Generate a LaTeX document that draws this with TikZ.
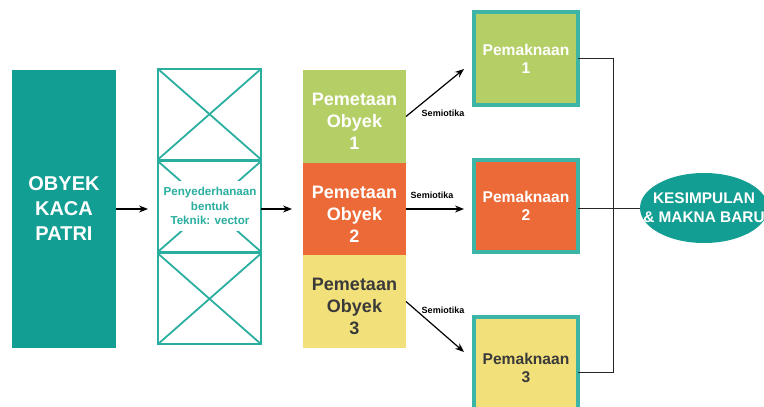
\documentclass[tikz,border=0pt]{standalone}
\usepackage{fontspec}
\setmainfont{Liberation Sans}
\usetikzlibrary{arrows.meta,calc,shapes.geometric}
\definecolor{tealA}{HTML}{139E94}
\definecolor{tealL}{HTML}{2AAE9F}
\definecolor{tealB}{HTML}{3DB5A6}
\definecolor{greenM}{HTML}{B5CF67}
\definecolor{orangeM}{HTML}{EC6A37}
\definecolor{yellowM}{HTML}{F2E07A}
\definecolor{darkT}{HTML}{3A3A3A}
\begin{document}
\begin{tikzpicture}[x=1pt,y=-1pt,
  box/.style={rectangle, inner sep=0pt, outer sep=0pt, align=center},
  objbox/.style={box, fill=tealA, text=white, minimum width=104pt, minimum height=278pt, font=\fontsize{20}{25}\selectfont\bfseries},
  crossbox/.style={box, draw=tealL, line width=1.8pt, minimum width=103pt, minimum height=90.5pt},
  crossline/.style={draw=tealL, line width=1.8pt},
  simplab/.style={box, fill=white, text=tealL, inner sep=1pt, minimum width=86pt, minimum height=50pt, font=\fontsize{11.6}{14.5}\selectfont\bfseries},
  mapbox/.style={box, minimum width=103pt, minimum height=93pt},
  maptext/.style={align=center, inner sep=0pt, font=\fontsize{18}{22}\selectfont\bfseries},
  meanbox/.style={box, draw=tealB, line width=4pt, minimum width=104pt, minimum height=93pt, font=\fontsize{15.6}{18}\selectfont\bfseries},
  endell/.style={ellipse, fill=tealA, inner sep=0pt, outer sep=0pt, minimum width=128pt, minimum height=70pt},
  endtext/.style={text=white, align=center, inner sep=0pt, font=\fontsize{15.4}{19}\selectfont\bfseries},
  arr/.style={-{Stealth[length=9pt,width=7pt]}, line width=1.2pt, black},
  link/.style={line width=1pt, black!85},
  semio/.style={font=\fontsize{9}{10}\selectfont\bfseries, text=black, inner sep=0pt}
]
\useasboundingbox (0,0) rectangle (764,407);

% source object
\node[objbox] (obj) at (64,209) {OBYEK\\KACA\\PATRI};

% crossed simplification column
\node[crossbox] (s1) at (209.5,114.2) {};
\node[crossbox] (s2) at (209.5,206.5) {};
\node[crossbox] (s3) at (209.5,298.8) {};
\foreach \s in {s1,s2,s3}{
  \draw[crossline] (\s.north west) -- (\s.south east) (\s.south west) -- (\s.north east);
}
\node[simplab] (lab) at (210,206) {Penyederhanaan\\bentuk\\Teknik: vector};

% mapping column
\node[mapbox, fill=greenM] (m1) at (354.5,116.5) {};
\node[mapbox, fill=orangeM, minimum height=92pt] (m2) at (354.5,209) {};
\node[mapbox, fill=yellowM] (m3) at (354.5,301.5) {};
\node[maptext, text=white] (m1t) at ($(m1.center)+(0,5)$) {Pemetaan\\Obyek\\1};
\node[maptext, text=white] (m2t) at ($(m2.center)+(0,5)$) {Pemetaan\\Obyek\\2};
\node[maptext, text=darkT] (m3t) at ($(m3.center)+(0,5)$) {Pemetaan\\Obyek\\3};

% meaning boxes
\node[meanbox, fill=greenM, text=white] (p1) at (526,58.5) {Pemaknaan\\1};
\node[meanbox, fill=orangeM, text=white, minimum height=92pt] (p2) at (526,206) {Pemaknaan\\2};
\node[meanbox, fill=yellowM, text=darkT, minimum height=102pt] (p3) at (526,368) {Pemaknaan\\3};

% conclusion
\node[endell] (k) at (704,208) {};
\node[endtext] (kt) at (k.center) {KESIMPULAN\\\& MAKNA BARU};

% arrows
\draw[arr, shorten >=10pt] (obj.east) -- (obj.east -| s2.west);
\draw[arr, shorten >=11pt] (obj.east -| s2.east) -- (obj.east -| m2.west);
\draw[arr] (m1.east) -- ($(p1.west)+(-10,10.5)$);
\draw[arr, shorten >=10pt] (m2.east) -- (m2.east -| p2.west);
\draw[arr] (m3.east) -- ($(p3.west)+(-10,-16)$);

\node[semio] (t1) at (443,113) {Semiotika};
\node[semio] (t2) at (432,195) {Semiotika};
\node[semio] (t3) at (443,310) {Semiotika};

% joining lines
\draw[link] (p1.east) -- ++(35,0) |- ($(p3.east)+(0,4)$);
\draw[link] (p2.east |- k.west) -- (k.west);
\end{tikzpicture}
\end{document}
